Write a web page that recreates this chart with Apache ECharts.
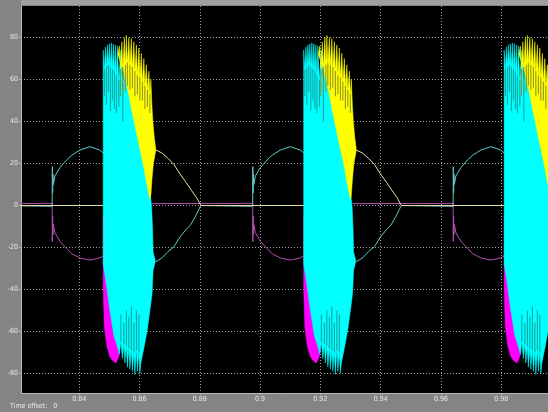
<!DOCTYPE html>
<html><head><meta charset="utf-8">
<script src="https://cdn.jsdelivr.net/npm/echarts@6/dist/echarts.min.js"></script>
<style>html,body{margin:0;padding:0;background:#848484;}#c{width:548px;height:412px;}</style>
</head><body><div id="c"></div>
<script>
// Axis ticks
const xTicks = [0.84, 0.86, 0.88, 0.9, 0.92, 0.94, 0.96, 0.98];
const yTicks = [-80, -60, -40, -20, 0, 20, 40, 60, 80];
// Times (s) of the small spike that starts each cycle
const periodStarts = [0.76454, 0.83104, 0.89754, 0.96404];

// Burst envelopes: time after the cycle spike (ms), value
const cyanBurstT = [16.92,17.31,17.65,17.98,18.31,18.64,18.97,19.30,19.64,19.97,20.30,20.63,20.96,21.30,21.63,22.12,22.79,23.45,24.11,
  25.77,28.09,30.08,31.74,32.97,33.33,33.47,34.23,33.47,33.14,32.41,31.58,30.42,29.42,
  29.09,28.76,28.26,27.93,27.43,27.10,26.60,26.27,25.77,25.44,24.94,24.61,24.11,23.78,23.29,22.79,22.29,21.79,
  20.47,19.14,17.81,16.92];
const cyanBurstV = [74,65,75.5,66,76.5,67,77,66,77.5,65,77,64,76.5,62,76,60,74,58,70,
  60,45,30,15,0,-12,-22,-26.5,-31,-42,-50,-59,-68,-75,
  -80,-70,-79,-69,-80.5,-70,-79,-69,-78,-68,-77,-67,-75,-66,-73,-65,-71,-68,
  -62,-50,-36,-28];

const yellowBurstT = [21.79,22.29,22.62,23.12,23.45,23.95,24.28,24.61,24.94,25.44,25.77,26.27,26.60,27.10,27.43,27.93,28.26,28.76,29.09,
  29.59,29.92,30.42,30.75,31.25,31.58,32.08,32.41,32.74,33.07,33.40,33.90,34.40,33.57,33.07,32.74,32.41,
  31.41,30.42,29.09,27.76,26.44,25.11,23.78];
const yellowBurstV = [72,76,65,78,66,80,67,81,68,80,67,79.5,66,78,64,76.5,62,75,61,
  72.5,59,70,57,67,55,64,53,60,48,40,32,26.4,20,12,5,3,
  10,18,27,36,45,55,63];

const magentaBurstT = [16.92,16.92,17.31,18.14,19.14,20.13,21.13,22.12,22.79,21.13,19.14,17.81];
const magentaBurstV = [-5,-40,-58,-67,-72,-74,-75,-72,-60,-40,-15,-5];

// Dark streaks inside the bursts (oscillation troughs): time (ms), from value, to value
const cyanStreakT = [17.31,17.98,18.64,19.30,19.97,20.63,21.30,22.12,23.45,28.76,27.93,27.10,26.27,25.44,24.61,23.78,22.79];
const cyanStreakFrom = [65,66,67,66,65,64,62,60,58,-70,-69,-70,-69,-68,-67,-66,-65];
const cyanStreakTo = [52,48,54,45,50,46,44,47,40,-52,-50,-56,-48,-53,-50,-56,-52];
const yellowStreakT = [22.62,23.45,24.28,24.94,25.77,26.60,27.43,28.26,29.09,29.92,30.75,31.58,32.41];
const yellowStreakFrom = [65,66,67,68,67,66,64,62,61,59,57,55,53];
const yellowStreakTo = [52,55,54,57,55,56,52,53,50,50,46,47,44];

// Thin traces outside the bursts (null = trace hidden inside a burst)
const yellowLineT = [0,16.9,16.95,34.4,36.4,38.4,40.4,42.4,44.4,46.3,48.0,49.3,66.5];
const yellowLineV = [0,0,null,26.4,25,22.5,19.5,15,11,7,3.5,0,0];
const cyanLineT = [0,0.05,0.15,0.25,0.4,0.9,2.55,4.78,6.53,9.19,12.5,15.8,16.9,16.95,34.4,36.4,38.4,40.4,42.4,44.4,45.9,47.6,49.3,66.5];
const cyanLineV = [-0.4,18.5,6,15,10,14,18,21.7,24,26.4,28,26.4,25,null,-26.8,-25,-22,-19.6,-15,-11.5,-9.3,-5,0,-0.4];
const magentaLineT = [0,0.05,0.15,0.25,0.4,0.9,2.55,4.78,6.53,9.19,12.5,15.8,16.9,16.95,33.1,66.5];
const magentaLineV = [1,-17.2,-5,-14,-9,-13,-17,-20.5,-23,-25,-26,-25,-24,null,0.9,1];

function lineData(T, V) {
  const out = [];
  periodStarts.forEach(p => {
    T.forEach((t, i) => out.push([p + t / 1000, V[i] === null ? null : V[i]]));
  });
  return out;
}
function burstSeries(color, T, V) {
  return {
    type: 'custom', silent: true,
    data: periodStarts.map(p => [p, 0]),
    encode: { x: 0, y: 1 },
    renderItem: function (params, api) {
      const p = periodStarts[params.dataIndex];
      const pts = T.map((t, i) => api.coord([p + t / 1000, V[i]]));
      return { type: 'polygon', shape: { points: pts }, style: { fill: color, stroke: color, lineWidth: 0.5 } };
    }
  };
}
function streakSeries(color, T, A, B) {
  return {
    type: 'custom', silent: true,
    data: periodStarts.map(p => [p, 0]),
    encode: { x: 0, y: 1 },
    renderItem: function (params, api) {
      const p = periodStarts[params.dataIndex];
      const children = T.map((t, i) => {
        const a = api.coord([p + t / 1000, A[i]]);
        const b = api.coord([p + t / 1000, B[i]]);
        return { type: 'line', shape: { x1: a[0], y1: a[1], x2: b[0], y2: b[1] }, style: { stroke: color, lineWidth: 1 } };
      });
      return { type: 'group', children: children };
    }
  };
}
function lineSeries(color, T, V) {
  return {
    type: 'line', showSymbol: false, silent: true, connectNulls: false,
    data: lineData(T, V),
    lineStyle: { color: color, width: 1 }
  };
}

const font = "'Liberation Sans Narrow','DejaVu Sans Condensed','Liberation Sans',sans-serif";
const chart = echarts.init(document.getElementById('c'), null, { renderer: 'canvas' });
chart.setOption({
  animation: false,
  backgroundColor: '#848484',
  grid: { left: 21, top: 6, right: 0, bottom: 19, show: true, backgroundColor: '#000000', borderWidth: 0 },
  xAxis: {
    type: 'value', min: 0.8207, max: 0.9955,
    axisLine: { show: true, onZero: false, lineStyle: { color: '#b8b8b8', width: 1 } },
    axisTick: { show: true, length: 2, customValues: xTicks, lineStyle: { color: '#b8b8b8' } },
    axisLabel: { customValues: xTicks, color: '#e8e8e8', fontSize: 7, fontFamily: font, margin: 3 },
    splitLine: { show: true, lineStyle: { color: '#a0a0a0', type: [1, 2], width: 1 } }
  },
  yAxis: {
    type: 'value', min: -89.3, max: 95,
    axisLine: { show: true, onZero: false, lineStyle: { color: '#b8b8b8', width: 1 } },
    axisTick: { show: true, length: 2, customValues: yTicks, lineStyle: { color: '#b8b8b8' } },
    axisLabel: { customValues: yTicks, color: '#e8e8e8', fontSize: 7, fontFamily: font, margin: 3 },
    splitLine: { show: true, lineStyle: { color: '#a0a0a0', type: [1, 2], width: 1 } }
  },
  graphic: [
    { type: 'rect', left: 21, top: 0, shape: { width: 527, height: 5 }, style: { fill: '#a0a0a0' } },
    { type: 'text', left: 10, top: 403, style: { text: 'Time offset:   0', fill: '#e8e8e8', fontSize: 7, fontFamily: font } }
  ],
  series: [
    burstSeries('#ff00ff', magentaBurstT, magentaBurstV),
    burstSeries('#00ffff', cyanBurstT, cyanBurstV),
    streakSeries('#149c9c', cyanStreakT, cyanStreakFrom, cyanStreakTo),
    burstSeries('#ffff00', yellowBurstT, yellowBurstV),
    streakSeries('#8c8c28', yellowStreakT, yellowStreakFrom, yellowStreakTo),
    lineSeries('#b050b0', magentaLineT, magentaLineV),
    lineSeries('#5ec8c8', cyanLineT, cyanLineV),
    lineSeries('#e6e0a8', yellowLineT, yellowLineV)
  ]
});
</script></body></html>
